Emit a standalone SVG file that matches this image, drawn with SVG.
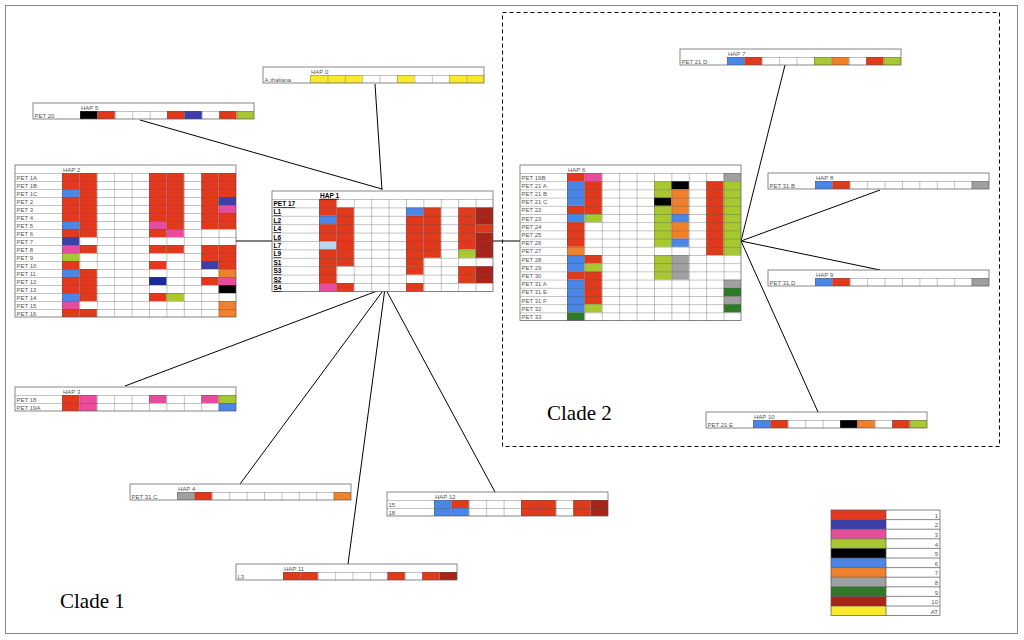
<svg xmlns="http://www.w3.org/2000/svg" width="1024" height="640" viewBox="0 0 1024 640">
<style>
.R{fill:#e0391c}.D{fill:#a82418}.U{fill:#3e3ea8}.P{fill:#e84c9c}.G{fill:#a8c832}.K{fill:#000}.B{fill:#4a86e8}.O{fill:#f0802c}.Y{fill:#a0a0a0}.E{fill:#2e7a28}.W{fill:#f8e830}.L{fill:#b8d8f0}.N{fill:#1a2a9a}
.t{font-family:"Liberation Sans",Arial,sans-serif;font-size:6px;fill:#555}
.tb{font-family:"Liberation Sans",Arial,sans-serif;font-size:6.5px;font-weight:bold;fill:#000;text-decoration:underline}
.bx{fill:none;stroke:#555;stroke-width:0.7}
.bg{fill:#fff}
.ln{stroke:#000;stroke-width:1;fill:none}
.cl{font-family:"Liberation Serif","Times New Roman",serif;font-size:21px;fill:#000}
</style>
<defs>
<pattern id="g8" x="47" y="8" width="17.4" height="8" patternUnits="userSpaceOnUse"><path d="M0 0H17.4M0 0V8" stroke="#555" stroke-width="0.7" fill="none"/></pattern>
<pattern id="h8" x="0" y="8" width="47" height="8" patternUnits="userSpaceOnUse"><path d="M0 0H47" stroke="#555" stroke-width="0.7" fill="none"/></pattern>
<pattern id="g84" x="47" y="8" width="17.4" height="8.4" patternUnits="userSpaceOnUse"><path d="M0 0H17.4M0 0V8.4" stroke="#555" stroke-width="0.7" fill="none"/></pattern>
<pattern id="h84" x="0" y="8" width="47" height="8.4" patternUnits="userSpaceOnUse"><path d="M0 0H47" stroke="#555" stroke-width="0.7" fill="none"/></pattern>
<pattern id="g82" x="47" y="8" width="17.4" height="8.2" patternUnits="userSpaceOnUse"><path d="M0 0H17.4M0 0V8.2" stroke="#555" stroke-width="0.7" fill="none"/></pattern>
<pattern id="h82" x="0" y="8" width="47" height="8.2" patternUnits="userSpaceOnUse"><path d="M0 0H47" stroke="#555" stroke-width="0.7" fill="none"/></pattern>
</defs>
<rect x="0" y="0" width="1024" height="640" fill="#fff"/>
<rect x="5.5" y="5.5" width="1012" height="628" fill="none" stroke="#888" stroke-width="1"/>
<rect x="502.5" y="12.5" width="497" height="434" fill="none" stroke="#000" stroke-width="1" stroke-dasharray="4,3"/>

<g id="connectors">
<line class="ln" x1="140" y1="120" x2="382" y2="189"/>
<line class="ln" x1="375" y1="84" x2="382" y2="190"/>
<line class="ln" x1="236" y1="241" x2="272" y2="241"/>
<line class="ln" x1="493" y1="241" x2="520" y2="241"/>
<line class="ln" x1="385" y1="288" x2="125" y2="386"/>
<line class="ln" x1="385" y1="288" x2="240" y2="484"/>
<line class="ln" x1="385" y1="288" x2="348" y2="564"/>
<line class="ln" x1="385" y1="288" x2="495" y2="492"/>
<line class="ln" x1="741" y1="241" x2="785" y2="65"/>
<line class="ln" x1="741" y1="241" x2="880" y2="190"/>
<line class="ln" x1="741" y1="241" x2="880" y2="270"/>
<line class="ln" x1="741" y1="241" x2="818" y2="412"/>
</g>

<g id="hap0" transform="translate(263,67)">
<rect class="bg" width="221" height="16"/>
<rect class="W" x="47" y="8" width="17.4" height="8"/><rect class="W" x="64.4" y="8" width="17.4" height="8"/><rect class="W" x="81.8" y="8" width="17.4" height="8"/><rect class="W" x="134" y="8" width="17.4" height="8"/><rect class="W" x="186.2" y="8" width="17.4" height="8"/><rect class="W" x="203.6" y="8" width="17.4" height="8"/>
<rect x="47" y="8" width="174" height="8" fill="url(#g8)"/><rect class="bx" width="221" height="16"/>
<text class="t" x="48" y="6.5">HAP 0</text><text class="t" x="1.5" y="14.5">A.thaliana</text>
</g>

<g id="hap5" transform="translate(33,103)">
<rect class="bg" width="221" height="16"/>
<rect class="K" x="47" y="8" width="17.4" height="8"/><rect class="R" x="64.4" y="8" width="17.4" height="8"/><rect class="R" x="134" y="8" width="17.4" height="8"/><rect class="U" x="151.4" y="8" width="17.4" height="8"/><rect class="R" x="186.2" y="8" width="17.4" height="8"/><rect class="G" x="203.6" y="8" width="17.4" height="8"/>
<rect x="47" y="8" width="174" height="8" fill="url(#g8)"/><rect class="bx" width="221" height="16"/>
<text class="t" x="48" y="6.5">HAP 5</text><text class="t" x="1.5" y="14.5">PET 20</text>
</g>

<g id="hap2" transform="translate(15,165)">
<rect class="bg" width="221" height="152"/>
<!-- col0 -->
<rect class="R" x="47" y="8" width="17.4" height="16"/><rect class="B" x="47" y="24" width="17.4" height="8"/><rect class="R" x="47" y="32" width="17.4" height="24"/><rect class="B" x="47" y="56" width="17.4" height="8"/><rect class="R" x="47" y="64" width="17.4" height="8"/><rect class="U" x="47" y="72" width="17.4" height="8"/><rect class="P" x="47" y="80" width="17.4" height="8"/><rect class="G" x="47" y="88" width="17.4" height="8"/><rect class="R" x="47" y="96" width="17.4" height="8"/><rect class="B" x="47" y="104" width="17.4" height="8"/><rect class="R" x="47" y="112" width="17.4" height="16"/><rect class="B" x="47" y="128" width="17.4" height="8"/><rect class="P" x="47" y="136" width="17.4" height="8"/><rect class="R" x="47" y="144" width="17.4" height="8"/>
<!-- col1 -->
<rect class="R" x="64.4" y="8" width="17.4" height="64"/><rect class="R" x="64.4" y="80" width="17.4" height="8"/><rect class="R" x="64.4" y="104" width="17.4" height="32"/><rect class="R" x="64.4" y="144" width="17.4" height="8"/>
<!-- col5 -->
<rect class="R" x="134" y="8" width="17.4" height="48"/><rect class="P" x="134" y="56" width="17.4" height="8"/><rect class="R" x="134" y="64" width="17.4" height="8"/><rect class="R" x="134" y="80" width="17.4" height="8"/><rect class="R" x="134" y="96" width="17.4" height="8"/><rect class="N" x="134" y="112" width="17.4" height="8"/><rect class="R" x="134" y="128" width="17.4" height="8"/>
<!-- col6 -->
<rect class="R" x="151.4" y="8" width="17.4" height="56"/><rect class="P" x="151.4" y="64" width="17.4" height="8"/><rect class="R" x="151.4" y="80" width="17.4" height="8"/><rect class="G" x="151.4" y="128" width="17.4" height="8"/>
<!-- col8 -->
<rect class="R" x="186.2" y="8" width="17.4" height="56"/><rect class="R" x="186.2" y="80" width="17.4" height="16"/><rect class="U" x="186.2" y="96" width="17.4" height="8"/><rect class="R" x="186.2" y="112" width="17.4" height="8"/>
<!-- col9 -->
<rect class="R" x="203.6" y="8" width="17.4" height="24"/><rect class="U" x="203.6" y="32" width="17.4" height="8"/><rect class="P" x="203.6" y="40" width="17.4" height="8"/><rect class="R" x="203.6" y="48" width="17.4" height="16"/><rect class="R" x="203.6" y="80" width="17.4" height="24"/><rect class="O" x="203.6" y="104" width="17.4" height="8"/><rect class="P" x="203.6" y="112" width="17.4" height="8"/><rect class="K" x="203.6" y="120" width="17.4" height="8"/><rect class="O" x="203.6" y="136" width="17.4" height="16"/>
<rect x="47" y="8" width="174" height="144" fill="url(#g8)"/><rect x="0" y="8" width="47" height="144" fill="url(#h8)"/><rect class="bx" width="221" height="152"/>
<text class="t" x="48" y="6.5">HAP 2</text>
<g class="t"><text x="1.5" y="14.5">PET 1A</text><text x="1.5" y="22.5">PET 1B</text><text x="1.5" y="30.5">PET 1C</text><text x="1.5" y="38.5">PET 2</text><text x="1.5" y="46.5">PET 3</text><text x="1.5" y="54.5">PET 4</text><text x="1.5" y="62.5">PET 5</text><text x="1.5" y="70.5">PET 6</text><text x="1.5" y="78.5">PET 7</text><text x="1.5" y="86.5">PET 8</text><text x="1.5" y="94.5">PET 9</text><text x="1.5" y="102.5">PET 10</text><text x="1.5" y="110.5">PET 11</text><text x="1.5" y="118.5">PET 12</text><text x="1.5" y="126.5">PET 13</text><text x="1.5" y="134.5">PET 14</text><text x="1.5" y="142.5">PET 15</text><text x="1.5" y="150.5">PET 16</text></g>
</g>

<g id="hap1" transform="translate(272,191)">
<rect class="bg" width="221" height="100.4"/>
<rect class="R" x="47" y="8" width="17.4" height="16.8"/><rect class="B" x="47" y="24.8" width="17.4" height="8.4"/><rect class="R" x="47" y="33.2" width="17.4" height="16.8"/><rect class="L" x="47" y="50" width="17.4" height="8.4"/><rect class="R" x="47" y="58.4" width="17.4" height="33.6"/><rect class="P" x="47" y="92" width="17.4" height="8.4"/>
<rect class="R" x="64.4" y="16.4" width="17.4" height="58.8"/><rect class="R" x="64.4" y="92" width="17.4" height="8.4"/>
<rect class="B" x="134" y="16.4" width="17.4" height="8.4"/><rect class="R" x="134" y="24.8" width="17.4" height="50.4"/><rect class="R" x="134" y="75.2" width="17.4" height="8.4"/><rect class="R" x="134" y="92" width="17.4" height="8.4"/>
<rect class="R" x="151.4" y="16.4" width="17.4" height="50.4"/>
<rect class="R" x="186.2" y="16.4" width="17.4" height="42"/><rect class="G" x="186.2" y="58.4" width="17.4" height="8.4"/><rect class="R" x="186.2" y="75.2" width="17.4" height="16.8"/>
<rect class="D" x="203.6" y="16.4" width="17.4" height="16.8"/><rect class="R" x="203.6" y="33.2" width="17.4" height="8.4"/><rect class="D" x="203.6" y="41.6" width="17.4" height="25.2"/><rect class="D" x="203.6" y="75.2" width="17.4" height="16.8"/>
<rect x="47" y="8" width="174" height="92.4" fill="url(#g84)"/><rect x="0" y="8" width="47" height="92.4" fill="url(#h84)"/><rect class="bx" width="221" height="100.4"/>
<text class="tb" x="48" y="6.8">HAP 1</text>
<g class="tb"><text x="1.5" y="15">PET 17</text><text x="1.5" y="23.4">L1</text><text x="1.5" y="31.8">L2</text><text x="1.5" y="40.2">L4</text><text x="1.5" y="48.6">L6</text><text x="1.5" y="57">L7</text><text x="1.5" y="65.4">L9</text><text x="1.5" y="73.8">S1</text><text x="1.5" y="82.2">S3</text><text x="1.5" y="90.6">S2</text><text x="1.5" y="99">S4</text></g>
</g>

<g id="hap6" transform="translate(520,165)">
<rect class="bg" width="221" height="155.6"/>
<!-- col0 -->
<rect class="R" x="47" y="8" width="17.4" height="8.2"/><rect class="B" x="47" y="16.2" width="17.4" height="24.6"/><rect class="R" x="47" y="40.8" width="17.4" height="8.2"/><rect class="B" x="47" y="49" width="17.4" height="8.2"/><rect class="R" x="47" y="57.2" width="17.4" height="24.6"/><rect class="O" x="47" y="81.8" width="17.4" height="8.2"/><rect class="B" x="47" y="90" width="17.4" height="16.4"/><rect class="R" x="47" y="106.4" width="17.4" height="8.2"/><rect class="B" x="47" y="114.6" width="17.4" height="32.8"/><rect class="E" x="47" y="147.4" width="17.4" height="8.2"/>
<!-- col1 -->
<rect class="P" x="64.4" y="8" width="17.4" height="8.2"/><rect class="R" x="64.4" y="16.2" width="17.4" height="32.8"/><rect class="G" x="64.4" y="49" width="17.4" height="8.2"/><rect class="R" x="64.4" y="90" width="17.4" height="8.2"/><rect class="G" x="64.4" y="98.2" width="17.4" height="8.2"/><rect class="R" x="64.4" y="106.4" width="17.4" height="32.8"/><rect class="G" x="64.4" y="139.2" width="17.4" height="8.2"/>
<!-- col5 -->
<rect class="G" x="134" y="16.2" width="17.4" height="16.4"/><rect class="K" x="134" y="32.6" width="17.4" height="8.2"/><rect class="G" x="134" y="40.8" width="17.4" height="41"/><rect class="G" x="134" y="90" width="17.4" height="24.6"/>
<!-- col6 -->
<rect class="K" x="151.4" y="16.2" width="17.4" height="8.2"/><rect class="O" x="151.4" y="24.4" width="17.4" height="24.6"/><rect class="B" x="151.4" y="49" width="17.4" height="8.2"/><rect class="O" x="151.4" y="57.2" width="17.4" height="16.4"/><rect class="B" x="151.4" y="73.6" width="17.4" height="8.2"/><rect class="Y" x="151.4" y="90" width="17.4" height="24.6"/>
<!-- col8 -->
<rect class="R" x="186.2" y="16.2" width="17.4" height="73.8"/>
<!-- col9 -->
<rect class="Y" x="203.6" y="8" width="17.4" height="8.2"/><rect class="G" x="203.6" y="16.2" width="17.4" height="73.8"/><rect class="Y" x="203.6" y="114.6" width="17.4" height="8.2"/><rect class="E" x="203.6" y="122.8" width="17.4" height="8.2"/><rect class="Y" x="203.6" y="131" width="17.4" height="8.2"/><rect class="E" x="203.6" y="139.2" width="17.4" height="8.2"/>
<rect x="47" y="8" width="174" height="147.6" fill="url(#g82)"/><rect x="0" y="8" width="47" height="147.6" fill="url(#h82)"/><rect class="bx" width="221" height="155.6"/>
<text class="t" x="48" y="6.5">HAP 6</text>
<g class="t"><text x="1.5" y="14.6">PET 19B</text><text x="1.5" y="22.8">PET 21 A</text><text x="1.5" y="31">PET 21 B</text><text x="1.5" y="39.2">PET 21 C</text><text x="1.5" y="47.4">PET 22</text><text x="1.5" y="55.6">PET 23</text><text x="1.5" y="63.8">PET 24</text><text x="1.5" y="72">PET 25</text><text x="1.5" y="80.2">PET 26</text><text x="1.5" y="88.4">PET 27</text><text x="1.5" y="96.6">PET 28</text><text x="1.5" y="104.8">PET 29</text><text x="1.5" y="113">PET 30</text><text x="1.5" y="121.2">PET 31 A</text><text x="1.5" y="129.4">PET 31 E</text><text x="1.5" y="137.6">PET 31 F</text><text x="1.5" y="145.8">PET 32</text><text x="1.5" y="154">PET 33</text></g>
</g>

<g id="hap7" transform="translate(680,49)">
<rect class="bg" width="221" height="16"/>
<rect class="B" x="47" y="8" width="17.4" height="8"/><rect class="R" x="64.4" y="8" width="17.4" height="8"/><rect class="G" x="134" y="8" width="17.4" height="8"/><rect class="O" x="151.4" y="8" width="17.4" height="8"/><rect class="R" x="186.2" y="8" width="17.4" height="8"/><rect class="G" x="203.6" y="8" width="17.4" height="8"/>
<rect x="47" y="8" width="174" height="8" fill="url(#g8)"/><rect class="bx" width="221" height="16"/>
<text class="t" x="48" y="6.5">HAP 7</text><text class="t" x="1.5" y="14.5">PET 21 D</text>
</g>

<g id="hap8" transform="translate(768,173)">
<rect class="bg" width="221" height="16"/>
<rect class="B" x="47" y="8" width="17.4" height="8"/><rect class="R" x="64.4" y="8" width="17.4" height="8"/><rect class="Y" x="203.6" y="8" width="17.4" height="8"/>
<rect x="47" y="8" width="174" height="8" fill="url(#g8)"/><rect class="bx" width="221" height="16"/>
<text class="t" x="48" y="6.5">HAP 8</text><text class="t" x="1.5" y="14.5">PET 31 B</text>
</g>

<g id="hap9" transform="translate(768,270)">
<rect class="bg" width="221" height="16"/>
<rect class="B" x="47" y="8" width="17.4" height="8"/><rect class="R" x="64.4" y="8" width="17.4" height="8"/><rect class="Y" x="203.6" y="8" width="17.4" height="8"/>
<rect x="47" y="8" width="174" height="8" fill="url(#g8)"/><rect class="bx" width="221" height="16"/>
<text class="t" x="48" y="6.5">HAP 9</text><text class="t" x="1.5" y="14.5">PET 31 D</text>
</g>

<g id="hap10" transform="translate(706,412)">
<rect class="bg" width="221" height="16"/>
<rect class="B" x="47" y="8" width="17.4" height="8"/><rect class="R" x="64.4" y="8" width="17.4" height="8"/><rect class="K" x="134" y="8" width="17.4" height="8"/><rect class="O" x="151.4" y="8" width="17.4" height="8"/><rect class="R" x="186.2" y="8" width="17.4" height="8"/><rect class="G" x="203.6" y="8" width="17.4" height="8"/>
<rect x="47" y="8" width="174" height="8" fill="url(#g8)"/><rect class="bx" width="221" height="16"/>
<text class="t" x="48" y="6.5">HAP 10</text><text class="t" x="1.5" y="14.5">PET 21 E</text>
</g>

<g id="hap3" transform="translate(15,387)">
<rect class="bg" width="221" height="24"/>
<rect class="R" x="47" y="8" width="17.4" height="16"/><rect class="P" x="64.4" y="8" width="17.4" height="16"/><rect class="P" x="134" y="8" width="17.4" height="8"/><rect class="P" x="186.2" y="8" width="17.4" height="8"/><rect class="G" x="203.6" y="8" width="17.4" height="8"/><rect class="B" x="203.6" y="16" width="17.4" height="8"/>
<rect x="47" y="8" width="174" height="16" fill="url(#g8)"/><rect x="0" y="8" width="47" height="16" fill="url(#h8)"/><rect class="bx" width="221" height="24"/>
<text class="t" x="48" y="6.5">HAP 3</text><text class="t" x="1.5" y="14.5">PET 18</text><text class="t" x="1.5" y="22.5">PET 19A</text>
</g>

<g id="hap4" transform="translate(130,484)">
<rect class="bg" width="221" height="16"/>
<rect class="Y" x="47" y="8" width="17.4" height="8"/><rect class="R" x="64.4" y="8" width="17.4" height="8"/><rect class="O" x="203.6" y="8" width="17.4" height="8"/>
<rect x="47" y="8" width="174" height="8" fill="url(#g8)"/><rect class="bx" width="221" height="16"/>
<text class="t" x="48" y="6.5">HAP 4</text><text class="t" x="1.5" y="14.5">PET 31 C</text>
</g>

<g id="hap12" transform="translate(387,492)">
<rect class="bg" width="221" height="24"/>
<rect class="B" x="47" y="8" width="17.4" height="16"/><rect class="R" x="64.4" y="8" width="17.4" height="8"/><rect class="B" x="64.4" y="16" width="17.4" height="8"/><rect class="R" x="134" y="8" width="34.8" height="16"/><rect class="R" x="186.2" y="8" width="17.4" height="16"/><rect class="D" x="203.6" y="8" width="17.4" height="16"/>
<rect x="47" y="8" width="174" height="16" fill="url(#g8)"/><rect x="0" y="8" width="47" height="16" fill="url(#h8)"/><rect class="bx" width="221" height="24"/>
<text class="t" x="48" y="6.5">HAP 12</text><text class="t" x="1.5" y="14.5">15</text><text class="t" x="1.5" y="22.5">18</text>
</g>

<g id="hap11" transform="translate(236,564)">
<rect class="bg" width="221" height="16"/>
<rect class="R" x="47" y="8" width="17.4" height="8"/><rect class="R" x="64.4" y="8" width="17.4" height="8"/><rect class="R" x="151.4" y="8" width="17.4" height="8"/><rect class="R" x="186.2" y="8" width="17.4" height="8"/><rect class="D" x="203.6" y="8" width="17.4" height="8"/>
<rect x="47" y="8" width="174" height="8" fill="url(#g8)"/><rect class="bx" width="221" height="16"/>
<text class="t" x="48" y="6.5">HAP 11</text><text class="t" x="1.5" y="14.5">L3</text>
</g>

<g id="legend" transform="translate(831,510)">
<rect class="bg" width="109" height="106"/>
<rect class="R" x="0" y="0" width="55" height="9.6"/><rect class="U" x="0" y="9.6" width="55" height="9.6"/><rect class="P" x="0" y="19.2" width="55" height="9.6"/><rect class="G" x="0" y="28.8" width="55" height="9.6"/><rect class="K" x="0" y="38.4" width="55" height="9.6"/><rect class="B" x="0" y="48" width="55" height="9.6"/><rect class="O" x="0" y="57.6" width="55" height="9.6"/><rect class="Y" x="0" y="67.2" width="55" height="9.6"/><rect class="E" x="0" y="76.8" width="55" height="9.6"/><rect class="D" x="0" y="86.4" width="55" height="9.6"/><rect class="W" x="0" y="96" width="55" height="9.6"/>
<path d="M0 9.6H109M0 19.2H109M0 28.8H109M0 38.4H109M0 48H109M0 57.6H109M0 67.2H109M0 76.8H109M0 86.4H109M0 96H109M55 0V105.6" stroke="#555" stroke-width="0.7" fill="none"/>
<rect class="bx" width="109" height="105.6"/>
<g class="t" text-anchor="end"><text x="107" y="7.8">1</text><text x="107" y="17.4">2</text><text x="107" y="27">3</text><text x="107" y="36.6">4</text><text x="107" y="46.2">5</text><text x="107" y="55.8">6</text><text x="107" y="65.4">7</text><text x="107" y="75">8</text><text x="107" y="84.6">9</text><text x="107" y="94.2">10</text><text x="107" y="103.8">AT</text></g>
</g>

<text class="cl" x="60" y="608">Clade 1</text>
<text class="cl" x="547" y="420">Clade 2</text>
</svg>
